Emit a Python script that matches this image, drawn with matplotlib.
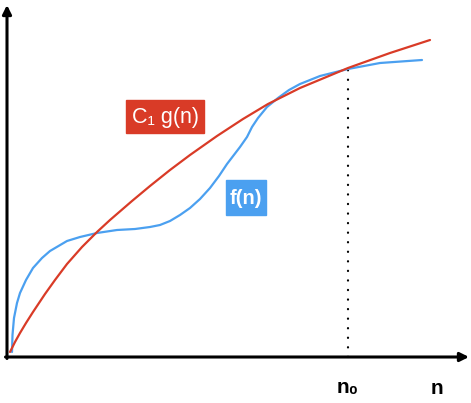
import matplotlib
matplotlib.use('Agg')
import matplotlib.pyplot as plt
from matplotlib.patches import Rectangle

# curve samples (n along x, value along y)
g_n = [3, 8, 13, 19, 26, 38, 48, 60, 75, 90, 103, 125, 143, 163, 183, 210, 236, 261, 293, 341, 383, 423]
g_val = [5, 15, 24, 34, 45, 63, 77, 93, 110, 125, 137, 156, 171, 187, 202, 221, 238, 253, 269, 289, 304, 317]

f_n = [5, 5.5, 7, 10, 13, 19, 26, 35, 43, 60, 73, 90, 110, 128, 143, 153, 163, 173, 183, 193, 203,
       212, 220, 233, 240, 245, 251, 260, 271, 282, 293, 313, 341, 373, 415]
f_val = [5, 22, 39, 54, 64, 77, 89, 99, 106, 116, 120, 124, 127, 128, 130, 132, 136, 142, 149, 158, 169,
         181, 193, 210, 220, 230, 239, 250, 259, 267, 273, 281, 288, 294, 297]

n0 = 341
n0_val = 289

red = '#d93b27'
blue = '#4ba0f0'
font = ['Liberation Sans', 'DejaVu Sans']

fig = plt.figure(figsize=(4.71, 4.03), dpi=100)
ax = fig.add_axes([0, 0, 1, 1])
ax.set_xlim(-7, 464)
ax.set_ylim(-46, 357)
ax.axis('off')

ax.plot(f_n, f_val, color=blue, lw=1.6, solid_joinstyle='round', solid_capstyle='round', zorder=3)
ax.plot(g_n, g_val, color=red, lw=1.6, solid_joinstyle='round', solid_capstyle='round', zorder=4)

# dotted drop line at n0
ax.plot([n0, n0], [0, n0_val], color='black', lw=1.6, linestyle=(0, (0.1, 4.2)),
        dash_capstyle='round', zorder=2)

# axes with arrows
arrow = dict(arrowstyle='-|>', lw=2.2, color='black', mutation_scale=13, shrinkA=0, shrinkB=0)
ax.annotate('', xy=(0, 352), xytext=(0, -1.5), arrowprops=arrow)
ax.annotate('', xy=(462, 0), xytext=(-1.5, 0), arrowprops=arrow)

# labels in coloured boxes
ax.add_patch(Rectangle((119, 224), 78, 33, color=red, zorder=5))
ax.text(158, 240, 'C\u2081 g(n)', color='white', fontsize=15.5, family=font,
        ha='center', va='center', zorder=6)
ax.add_patch(Rectangle((219, 142), 40, 35, color=blue, zorder=5))
ax.text(239, 159, 'f(n)', color='white', fontsize=14.5, family=font, weight='bold',
        ha='center', va='center', zorder=6)

ax.text(n0, -31, 'n\u2080', fontsize=15, family=font, weight='bold', ha='center', va='center')
ax.text(430, -31, 'n', fontsize=15, family=font, weight='bold', ha='center', va='center')

plt.savefig('out.png', dpi=100)
